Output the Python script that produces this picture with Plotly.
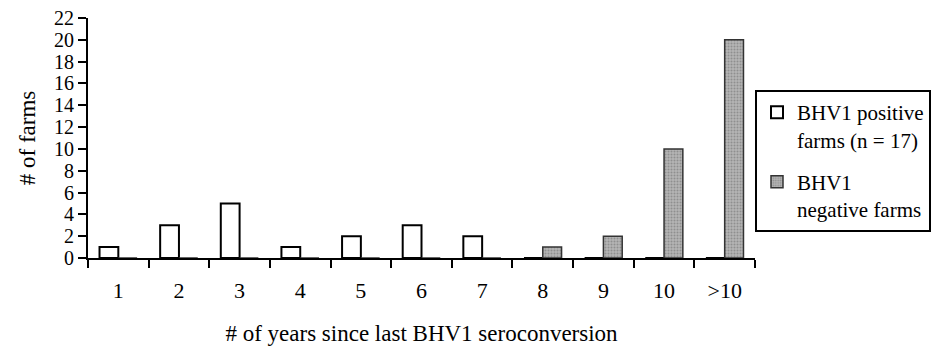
import plotly.graph_objects as go

categories = ["1", "2", "3", "4", "5", "6", "7", "8", "9", "10", ">10"]
positive = [1, 3, 5, 1, 2, 3, 2, 0, 0, 0, 0]
negative = [0, 0, 0, 0, 0, 0, 0, 1, 2, 10, 20]
y_ticks = list(range(0, 23, 2))

SERIF = "Liberation Serif, Times New Roman, DejaVu Serif, serif"

fig = go.Figure()
fig.add_trace(go.Bar(
    x=categories, y=positive, name="BHV1 positive<br>farms (n = 17)", legendgroup="pos",
    marker=dict(color="white", line=dict(color="black", width=2)),
))
fig.add_trace(go.Bar(
    x=categories, y=negative, name="BHV1<br>negative farms", legendgroup="neg",
    marker=dict(
        color="#a8a8a8", line=dict(color="#333333", width=1.5),
        pattern=dict(shape=".", bgcolor="#b4b4b4", fgcolor="#6a6a6a", size=3, solidity=0.35),
    ),
))

fig.update_layout(
    width=934, height=348,
    margin=dict(l=88, r=179, t=18, b=90, autoexpand=False),
    paper_bgcolor="white", plot_bgcolor="white",
    font=dict(family=SERIF, size=22, color="black"),
    barmode="group", bargap=0.38, bargroupgap=0,
    legend=dict(
        x=1.0, xanchor="left", y=0.70, yanchor="top",
        bordercolor="black", borderwidth=2, bgcolor="white",
        font=dict(family=SERIF, size=21, color="black"),
        itemwidth=30, valign="top", traceorder="grouped", tracegroupgap=12,
    ),
    xaxis=dict(
        type="category", showline=True, linecolor="black", linewidth=2,
        ticks="outside", tickson="boundaries", ticklen=8, tickwidth=2, tickcolor="black",
        ticklabelstandoff=12, showgrid=False,
        tickfont=dict(family=SERIF, size=22),
        title=dict(text="# of years since last BHV1 seroconversion", standoff=22,
                   font=dict(family=SERIF, size=23)),
    ),
    yaxis=dict(
        range=[0, 22], tickvals=y_ticks, showline=True, linecolor="black", linewidth=2,
        ticks="outside", ticklen=8, tickwidth=2, tickcolor="black",
        showgrid=False, zeroline=False,
        tickfont=dict(family=SERIF, size=20),
        title=dict(text="# of farms", standoff=12, font=dict(family=SERIF, size=23)),
    ),
)

fig.write_html("out.html")
